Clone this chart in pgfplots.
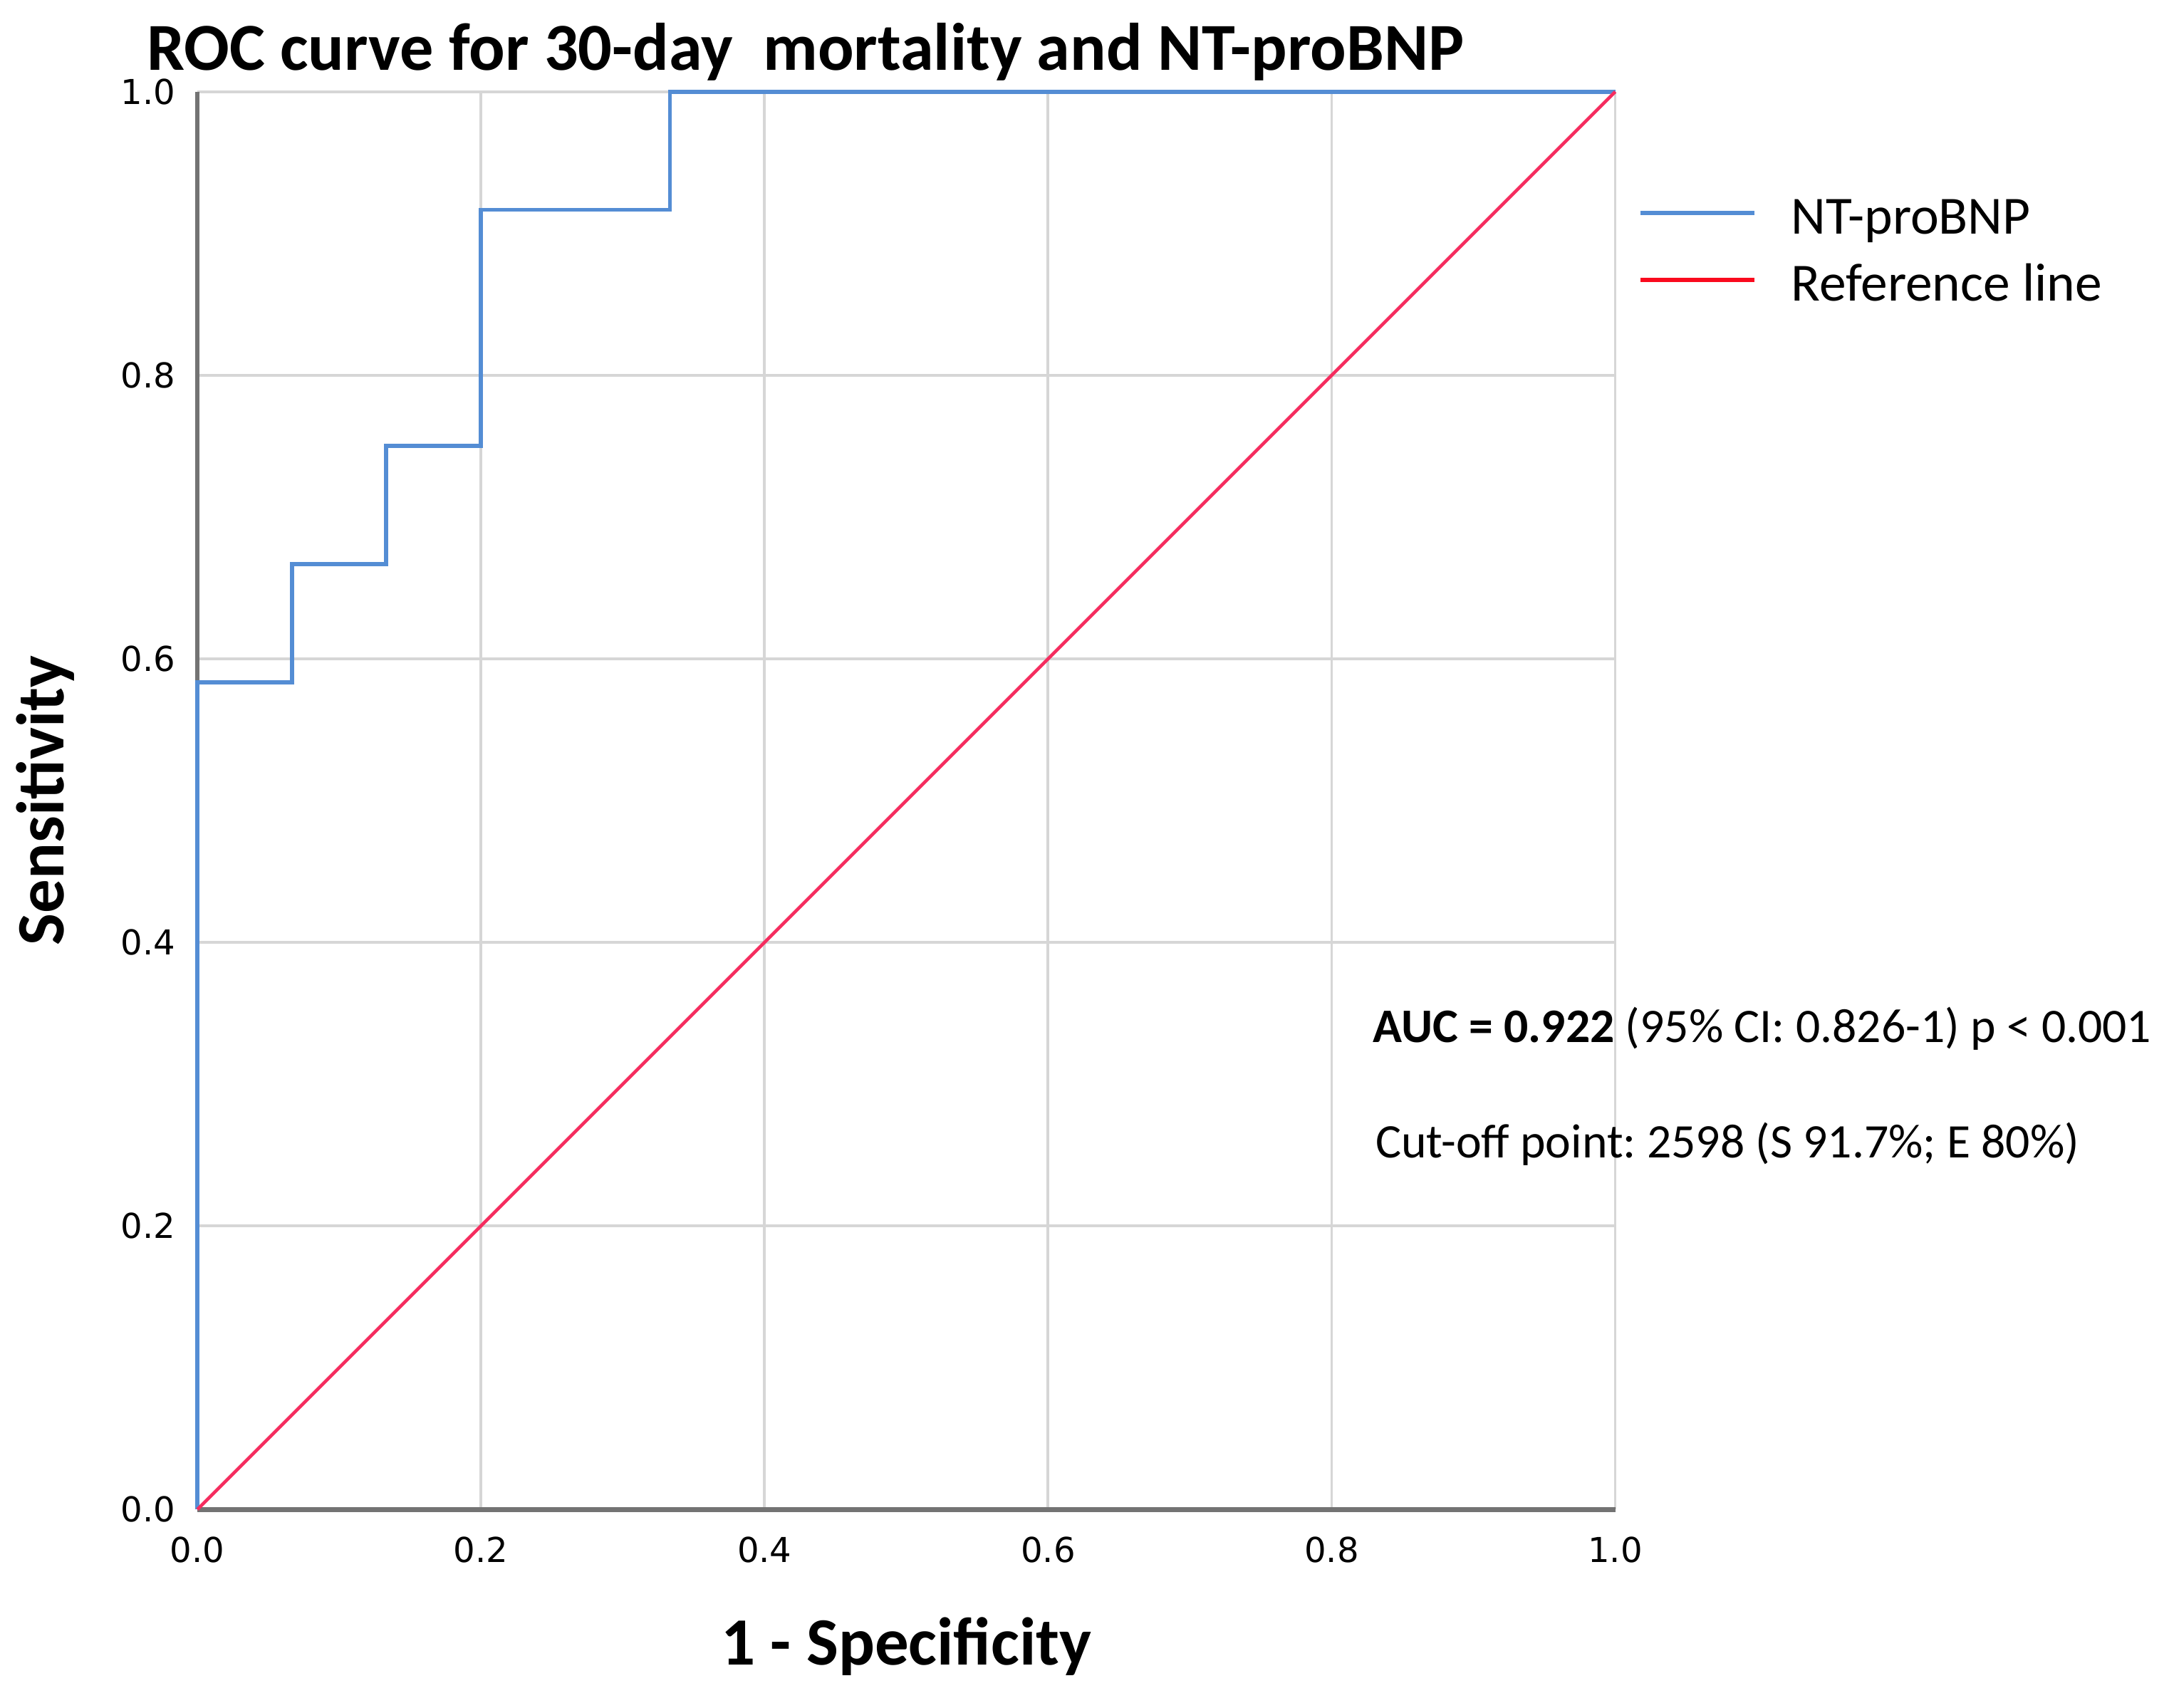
\documentclass[border=0pt]{standalone}
\usepackage{fontspec}
\setmainfont{Carlito}
\newfontfamily\dejavu{DejaVu Sans}
\usepackage{pgfplots}
\pgfplotsset{compat=1.18}
\frenchspacing

\definecolor{rocblue}{RGB}{84,141,212}
\definecolor{refpink}{RGB}{245,45,95}
\definecolor{legred}{RGB}{250,10,30}
\definecolor{gridgray}{RGB}{214,214,214}
\definecolor{axisgray}{RGB}{115,115,115}

\begin{document}
\begin{tikzpicture}
  \useasboundingbox (-42.6pt,-42.8pt) rectangle (426.6pt,325.8pt);
  \begin{axis}[
    at={(0,0)}, anchor=south west,
    scale only axis,
    width=306pt, height=306pt,
    xmin=0, xmax=1, ymin=0, ymax=1,
    axis lines=left,
    axis line style={-},
    x axis line style={axisgray, line width=1.1pt},
    y axis line style={axisgray, line width=0.8pt},
    xtick={0,0.2,0.4,0.6,0.8,1.0},
    ytick={0,0.2,0.4,0.6,0.8,1.0},
    major tick length=0pt,
    grid=major,
    major grid style={gridgray, line width=0.6pt},
    /pgf/number format/fixed,
    /pgf/number format/fixed zerofill,
    /pgf/number format/precision=1,
    /pgf/number format/assume math mode=true,
    tick label style={font=\dejavu\fontsize{7.4}{8}\selectfont, inner sep=0pt},
    x tick label style={anchor=center, yshift=-8.7pt},
    y tick label style={anchor=east, xshift=-4.5pt},
    xlabel={\bfseries 1 - Specificity},
    ylabel={\bfseries Sensitivity},
    label style={font=\fontsize{14.6}{16}\selectfont, inner sep=0pt},
    x label style={at={(axis description cs:0.5,0)}, anchor=base, yshift=-33.6pt},
    y label style={at={(axis description cs:0,0.5)}, anchor=base, rotate=0, yshift=28.8pt},
    clip=false,
    legend style={at={(rel axis cs:1,1)}, anchor=north west,
      xshift=4.8pt, yshift=-20.5pt, draw=none, fill=none, inner sep=0pt,
      font=\fontsize{11.6}{14}\selectfont,
      nodes={inner sep=0pt, text height=10pt, text depth=1pt},
      row sep=3.4pt,
      /tikz/every odd column/.append style={column sep=7.5pt}},
    legend cell align=left,
    legend image code/.code={\draw[#1] (0pt,0pt) -- (24.6pt,0pt);},
  ]
    % ROC steps: 12 deaths, 15 survivors
    \addplot[rocblue, line width=0.9pt, forget plot] coordinates {
      (0,0) (0,0.5833) (0.0667,0.5833) (0.0667,0.6667) (0.1333,0.6667)
      (0.1333,0.75) (0.2,0.75) (0.2,0.9167) (0.3333,0.9167) (0.3333,1) (1,1)
    };
    \addplot[refpink, line width=0.7pt, forget plot] coordinates {(0,0) (1,1)};
    \addlegendimage{rocblue, line width=0.9pt}
    \addlegendentry{NT-proBNP}
    \addlegendimage{legred, line width=0.9pt}
    \addlegendentry{Reference line}
  \end{axis}
  \node[anchor=base west, inner sep=0pt, text depth=0pt, font=\bfseries\fontsize{14.5}{16}\selectfont]
    at (-11.1pt,310.6pt) {ROC curve for 30-day\ \ mortality and NT-proBNP};
  \node[anchor=base west, inner sep=0pt, font=\fontsize{10.4}{12}\selectfont]
    at (253.5pt,100.8pt) {\textbf{AUC = 0.922} (95\% CI: 0.826-1) p < 0.001};
  \node[anchor=base west, inner sep=0pt, font=\fontsize{10.4}{12}\selectfont]
    at (254.1pt,75.9pt) {Cut-off point: 2598 (S 91.7\%; E 80\%)};
\end{tikzpicture}
\end{document}
